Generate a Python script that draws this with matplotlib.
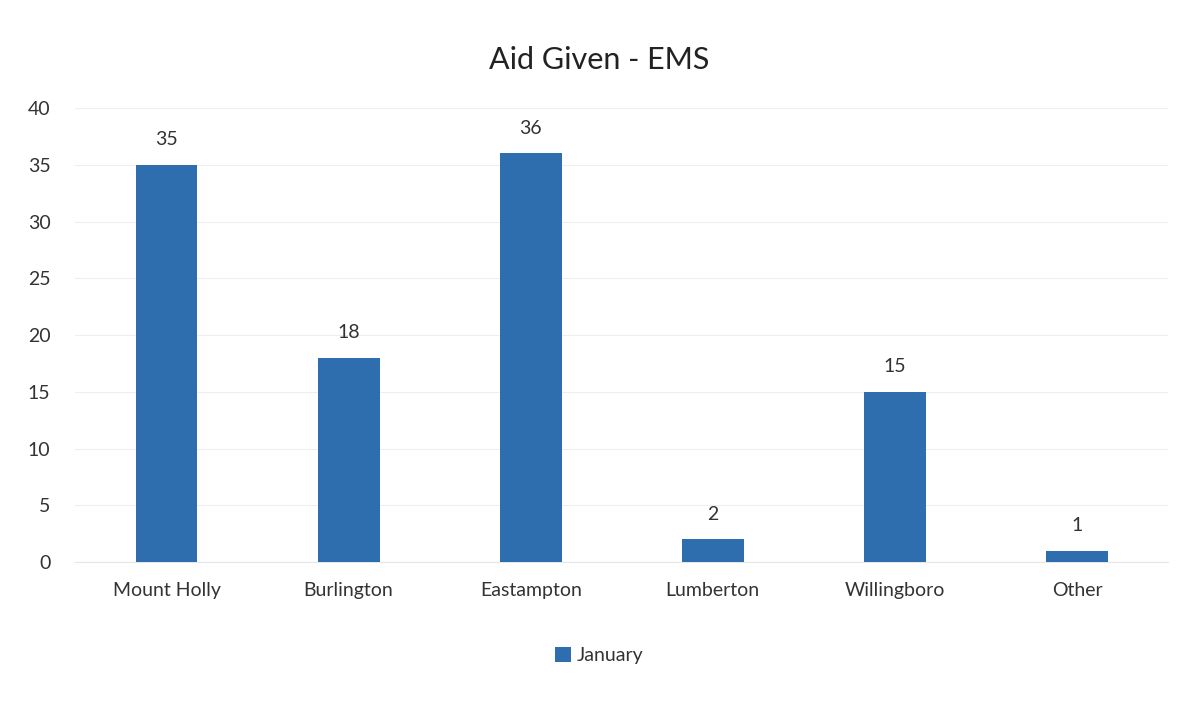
import matplotlib.pyplot as plt
import numpy as np

plt.rcParams["font.family"] = ["Lato", "DejaVu Sans"]

towns = ["Mount Holly", "Burlington", "Eastampton", "Lumberton", "Willingboro", "Other"]
january = [35, 18, 36, 2, 15, 1]

bar_color = "#2E6DAE"
text_color = "#333333"

fig = plt.figure(figsize=(11.98, 7.01), dpi=100)
ax = fig.add_axes([0.063, 0.198, 0.912, 0.648])

x = np.arange(len(towns))
bars = ax.bar(x, january, width=0.34, color=bar_color, label="January", zorder=3)
ax.bar_label(bars, padding=12, fontsize=14, color=text_color)

ax.set_xlim(-0.5, len(towns) - 0.5)
ax.set_ylim(0, 40)
ax.set_yticks(range(0, 41, 5))
ax.set_xticks(x, towns)
ax.tick_params(axis="both", length=0, labelsize=14, labelcolor=text_color)
ax.tick_params(axis="x", pad=14)
ax.tick_params(axis="y", pad=18)
ax.grid(axis="y", color="#eeeeee", linewidth=0.8, zorder=0)
for side in ["top", "right", "left"]:
    ax.spines[side].set_visible(False)
ax.spines["bottom"].set_color("#e6e6e6")

fig.suptitle("Aid Given - EMS", y=0.935, fontsize=22, color="#222222")
fig.legend(loc="center", bbox_to_anchor=(0.5, 0.065), frameon=False, fontsize=14,
           handlelength=0.8, handleheight=0.8, handletextpad=0.3, labelcolor=text_color)

fig.savefig("out.png", dpi=100, facecolor="white")
